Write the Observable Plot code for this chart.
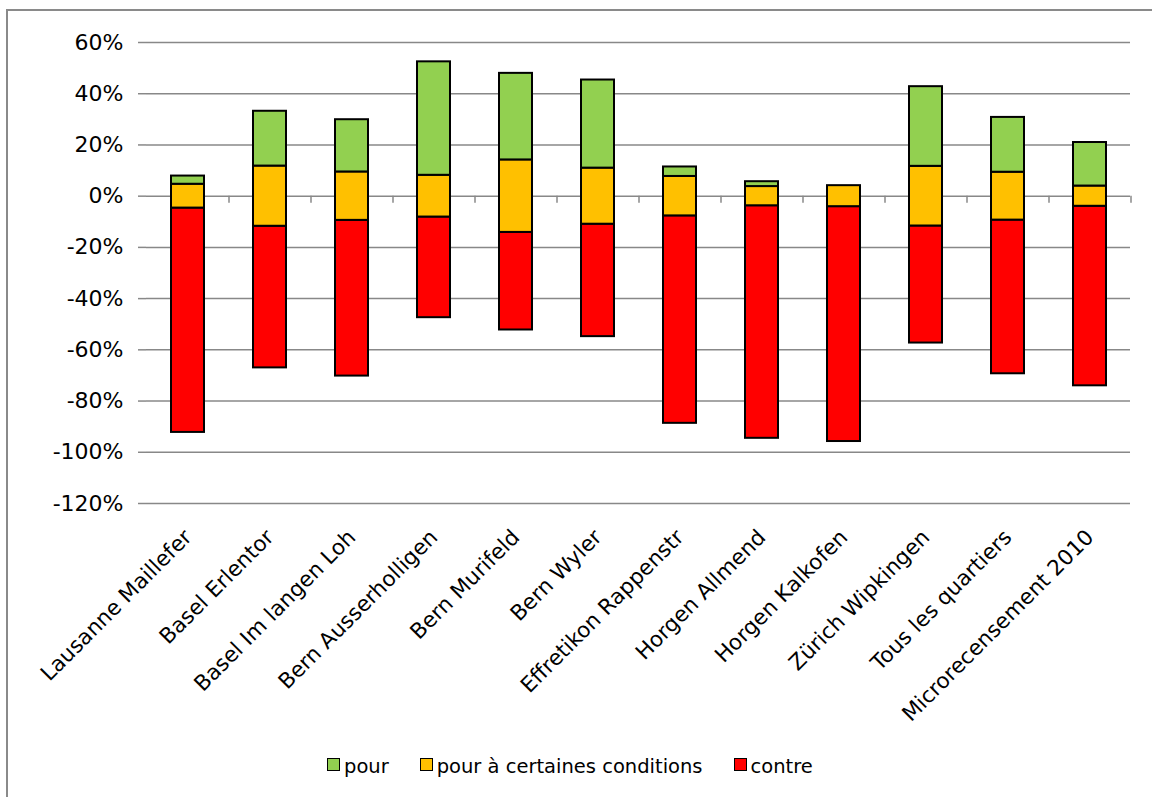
<!DOCTYPE html>
<html>
<head>
<meta charset="utf-8">
<script src="https://cdn.jsdelivr.net/npm/d3@7"></script>
<script src="https://cdn.jsdelivr.net/npm/@observablehq/plot@0.6"></script>
<style>
  html, body { margin: 0; padding: 0; background: #fff; overflow: hidden; }
  #wrap { position: relative; width: 1152px; height: 797px; overflow: hidden; font-family: "DejaVu Sans", sans-serif; }
  #frame { position: absolute; left: 6px; top: 9px; width: 1300px; height: 900px; border-left: 2px solid #8a8a8a; border-top: 2px solid #8a8a8a; }
  #chart { position: absolute; left: 0; top: 0; }
  #legend { position: absolute; left: 327px; top: 755px; display: flex; align-items: center; gap: 31px; font-size: 19.5px; color: #000; white-space: nowrap; }
  .item { display: flex; align-items: center; gap: 4px; }
  .sw { width: 11px; height: 11px; border: 1.5px solid #000; position: relative; top: -2px; }
</style>
</head>
<body>
<div id="wrap">
  <div id="frame"></div>
  <div id="chart"></div>
  <div id="legend"></div>
</div>
<script>
// Survey answers by neighbourhood, in percent of respondents
const categories = [
  "Lausanne Maillefer", "Basel Erlentor", "Basel Im langen Loh", "Bern Ausserholligen",
  "Bern Murifeld", "Bern Wyler", "Effretikon Rappenstr", "Horgen Allmend",
  "Horgen Kalkofen", "Zürich Wipkingen", "Tous les quartiers", "Microrecensement 2010"
];
const pour       = [3.2, 21.4, 20.4, 44.3, 33.8, 34.4, 3.7, 1.9, 0, 31.1, 21.4, 17.0];
const conditions = [9.3, 23.5, 18.9, 16.3, 28.3, 21.9, 15.4, 7.5, 8.2, 23.3, 18.7, 7.9];
const contre     = [87.6, 55.3, 60.8, 39.3, 38.1, 43.9, 81.0, 90.8, 91.7, 45.7, 60.0, 70.1];

const seriesNames  = ["pour", "pour à certaines conditions", "contre"];
const seriesColors = ["#92D050", "#FFC000", "#FF0000"];
const yTicks = d3.range(-120, 61, 20);

// Diverging layout: the conditional answers are split evenly around zero,
// "contre" hangs below them and "pour" sits on top.
const segments = [];
categories.forEach((name, i) => {
  const half = conditions[i] / 2;
  if (contre[i] > 0) segments.push({name, series: seriesNames[2], y1: -half - contre[i], y2: -half});
  if (conditions[i] > 0) segments.push({name, series: seriesNames[1], y1: -half, y2: half});
  if (pour[i] > 0) segments.push({name, series: seriesNames[0], y1: half, y2: half + pour[i]});
});

const gridColor = "#888";

const chart = Plot.plot({
  width: 1152,
  height: 740,
  marginTop: 42,
  marginBottom: 237,
  marginLeft: 146,
  marginRight: 22,
  style: {fontFamily: "DejaVu Sans, sans-serif", fontSize: "21px", color: "#000", background: "transparent"},
  x: {domain: categories, paddingInner: 0.6, paddingOuter: 0.3, axis: null},
  y: {domain: [-120, 60], axis: null},
  color: {domain: seriesNames, range: seriesColors},
  marks: [
    Plot.gridY(yTicks, {stroke: gridColor, strokeOpacity: 1, strokeWidth: 1.5}),
    Plot.axisY({
      ticks: yTicks, tickFormat: d => `${d}%`, tickSize: 8, tickPadding: 15,
      stroke: gridColor, strokeWidth: 1.5, fill: "#000", fontSize: 22, line: true
    }),
    // small ticks below the zero line at category boundaries
    Plot.ruleX(categories, {x: d => d, y1: 0, y2: 0, dx: 41, insetBottom: -7, stroke: gridColor, strokeWidth: 1.5}),
    Plot.rectY(segments, {
      x: "name", y1: "y1", y2: "y2", fill: "series",
      stroke: "#000", strokeWidth: 2
    }),
    Plot.text(categories, {
      x: d => d, frameAnchor: "bottom", rotate: -45,
      textAnchor: "end", lineAnchor: "bottom", dx: 5, dy: 35,
      fontSize: 21.5, fill: "#000"
    })
  ]
});
document.getElementById("chart").appendChild(chart);

// Legend
const legend = document.getElementById("legend");
seriesNames.forEach((name, i) => {
  const item = document.createElement("div");
  item.className = "item";
  const sw = document.createElement("div");
  sw.className = "sw";
  sw.style.background = seriesColors[i];
  const label = document.createElement("span");
  label.textContent = name;
  item.appendChild(sw);
  item.appendChild(label);
  legend.appendChild(item);
});
</script>
</body>
</html>
